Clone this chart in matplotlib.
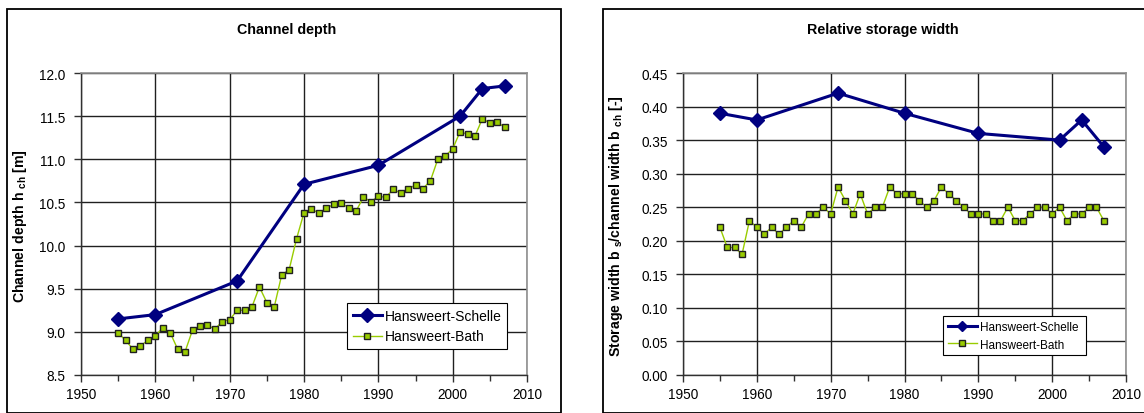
import matplotlib
matplotlib.use("Agg")
import matplotlib.pyplot as plt
from matplotlib.patches import Rectangle

plt.rcParams['font.family'] = ['Liberation Sans', 'DejaVu Sans']
plt.rcParams['mathtext.fontset'] = 'custom'
plt.rcParams['mathtext.rm'] = 'Liberation Sans'
plt.rcParams['mathtext.bf'] = 'Liberation Sans:bold'

# ---- data ----
schelle_years = [1955, 1960, 1971, 1980, 1990, 2001, 2004, 2007]
schelle_depth = [9.15, 9.20, 9.59, 10.71, 10.93, 11.50, 11.82, 11.85]
schelle_storage = [0.39, 0.38, 0.42, 0.39, 0.36, 0.35, 0.38, 0.34]

bath_years = list(range(1955, 2008))
bath_depth = [8.99, 8.90, 8.80, 8.84, 8.90, 8.95, 9.05, 8.99, 8.80, 8.77,
              9.02, 9.07, 9.08, 9.03, 9.12, 9.14, 9.25, 9.25, 9.29, 9.52,
              9.34, 9.29, 9.66, 9.72, 10.08, 10.38, 10.42, 10.38, 10.43, 10.48,
              10.49, 10.44, 10.40, 10.56, 10.51, 10.57, 10.56, 10.65, 10.61, 10.66,
              10.70, 10.66, 10.75, 11.00, 11.04, 11.12, 11.32, 11.29, 11.27, 11.47,
              11.42, 11.43, 11.37]
bath_storage = [0.22, 0.19, 0.19, 0.18, 0.23, 0.22, 0.21, 0.22, 0.21, 0.22,
                0.23, 0.22, 0.24, 0.24, 0.25, 0.24, 0.28, 0.26, 0.24, 0.27,
                0.24, 0.25, 0.25, 0.28, 0.27, 0.27, 0.27, 0.26, 0.25, 0.26,
                0.28, 0.27, 0.26, 0.25, 0.24, 0.24, 0.24, 0.23, 0.23, 0.25,
                0.23, 0.23, 0.24, 0.25, 0.25, 0.24, 0.25, 0.23, 0.24, 0.24,
                0.25, 0.25, 0.23]

titles = ["Channel depth", "Relative storage width"]
ylabels = [r"Channel depth h $_{\mathregular{ch}}$ [m]",
           r"Storage width b $_{\mathregular{s}}$/channel width b $_{\mathregular{ch}}$ [-]"]
legend_labels = ["Hansweert-Schelle", "Hansweert-Bath"]

W, H = 1144, 414
fig = plt.figure(figsize=(W / 100, H / 100), dpi=100)

NAVY = '#000080'
GREEN = '#99cc00'

def px(x0, y0, x1, y1):
    return [x0 / W, 1 - y1 / H, (x1 - x0) / W, (y1 - y0) / H]

# panel frames
fig.patches.append(Rectangle((7 / W, 0), (561 - 7) / W, 1 - 10 / H, transform=fig.transFigure,
                             fill=False, edgecolor='black', linewidth=1.3))
fig.patches.append(Rectangle((603 / W, 0), (1150 - 603) / W, 1 - 10 / H, transform=fig.transFigure,
                             fill=False, edgecolor='black', linewidth=1.3))

configs = [
    dict(rect=px(81, 74, 527, 376), ys=schelle_depth, yb=bath_depth, ylim=(8.5, 12.0),
         yticks=[8.5 + 0.5 * i for i in range(8)], fmt="{:.1f}", title_x=287,
         ylabel_x=20, leg=(347, 304, 507, 349), big=True),
    dict(rect=px(683, 74, 1126, 376), ys=schelle_storage, yb=bath_storage, ylim=(0.0, 0.45),
         yticks=[0.05 * i for i in range(10)], fmt="{:.2f}", title_x=883,
         ylabel_x=616, leg=(943, 317, 1086, 359), big=False),
]

for i, c in enumerate(configs):
    ax = fig.add_axes(c['rect'])
    ax.plot(schelle_years, c['ys'], color=NAVY, linewidth=2.2, marker='D',
            markersize=7, markerfacecolor=NAVY, markeredgecolor=NAVY, zorder=4,
            label=legend_labels[0])
    ax.plot(bath_years, c['yb'], color=GREEN, linewidth=1.0, marker='s',
            markersize=5, markerfacecolor=GREEN, markeredgecolor='#202020',
            markeredgewidth=1.0, zorder=3, label=legend_labels[1])
    ax.set_xlim(1950, 2010)
    ax.set_ylim(*c['ylim'])
    ax.set_xticks(list(range(1950, 2011, 10)))
    ax.set_xticks(list(range(1955, 2010, 10)), minor=True)
    ax.set_yticks(c['yticks'])
    ax.set_yticklabels([c['fmt'].format(v) for v in c['yticks']])
    ax.grid(True, which='major', color='#202020', linewidth=1.0)
    ax.set_axisbelow(True)
    for s in ['top', 'right']:
        ax.spines[s].set_color('#909090')
        ax.spines[s].set_linewidth(1.2)
    for s in ['left', 'bottom']:
        ax.spines[s].set_color('#303030')
        ax.spines[s].set_linewidth(1.0)
    ax.tick_params(axis='both', which='major', direction='out', length=5, width=1,
                   labelsize=9.8, color='#303030', pad=4)
    ax.tick_params(axis='x', which='minor', direction='out', length=4, width=1, color='#303030')
    ax.tick_params(axis='y', which='major', pad=6)
    fig.text(c['title_x'] / W, 1 - 30 / H, titles[i], ha='center', va='center',
             fontsize=10.3, fontweight='bold')
    fig.text(c['ylabel_x'] / W, 1 - 226 / H, ylabels[i], ha='center', va='center',
             rotation=90, fontsize=10.2, fontweight='bold')
    lx0, ly0, lx1, ly1 = c['leg']
    leg = ax.legend(loc='upper left', bbox_to_anchor=(lx0 / W, 1 - ly1 / H, (lx1 - lx0) / W, (ly1 - ly0) / H),
                    bbox_transform=fig.transFigure, mode='expand',
                    frameon=True, fancybox=False, edgecolor='black', framealpha=1,
                    fontsize=10.0 if c['big'] else 8.5, handlelength=2.1 if c['big'] else 2.5,
                    borderaxespad=0, borderpad=0.4, labelspacing=0.5,
                    markerscale=1.0 if c['big'] else 0.75, handletextpad=0.25)
    leg.get_frame().set_linewidth(0.8)

fig.savefig("out.png", dpi=100)
